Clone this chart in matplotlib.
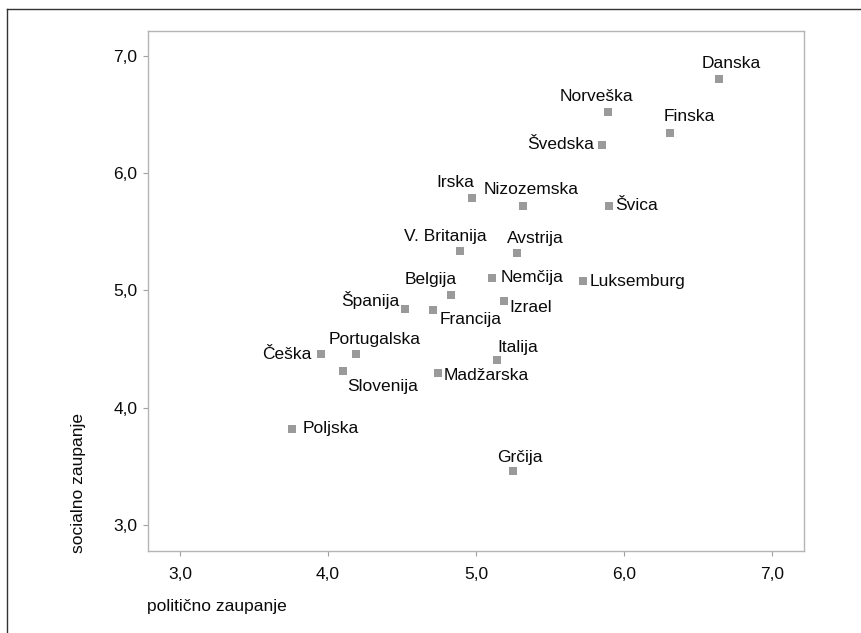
import numpy as np
import matplotlib
matplotlib.use("Agg")
import matplotlib.pyplot as plt
from matplotlib import font_manager
from matplotlib.lines import Line2D

# font: narrow sans if present, else normal Liberation Sans
try:
    font_manager.findfont(font_manager.FontProperties(family="Liberation Sans Narrow"), fallback_to_default=False)
    fam, fs = "Liberation Sans Narrow", 14
except Exception:
    fam, fs = "Liberation Sans", 12.5
plt.rcParams["font.family"] = [fam, "DejaVu Sans"]

########## data #################################################################
countries = ["Danska", "Norveška", "Finska", "Švedska", "Irska", "Nizozemska", "Švica",
             "V. Britanija", "Avstrija", "Nemčija", "Luksemburg", "Belgija", "Izrael",
             "Španija", "Francija", "Češka", "Portugalska", "Italija", "Slovenija",
             "Madžarska", "Poljska", "Grčija"]
political = [6.64, 5.89, 6.31, 5.85, 4.97, 5.32, 5.90,
             4.89, 5.28, 5.11, 5.72, 4.83, 5.19,
             4.52, 4.71, 3.95, 4.19, 5.14, 4.10,
             4.74, 3.76, 5.25]
social = [6.80, 6.52, 6.34, 6.24, 5.79, 5.72, 5.72,
          5.34, 5.32, 5.11, 5.08, 4.96, 4.91,
          4.84, 4.83, 4.46, 4.46, 4.41, 4.31,
          4.30, 3.82, 3.46]

xticks = [3.0, 4.0, 5.0, 6.0, 7.0]
yticks = [3.0, 4.0, 5.0, 6.0, 7.0]
xtick_labels = ["3,0", "4,0", "5,0", "6,0", "7,0"]
ytick_labels = ["3,0", "4,0", "5,0", "6,0", "7,0"]

# label placement: (ha, dx px, dy px)
label_pos = {
    "Danska": ("center", 13, 16), "Norveška": ("center", -11, 16), "Finska": ("center", 19, 17),
    "Švedska": ("right", -8, 1), "Irska": ("center", -16, 15), "Nizozemska": ("center", 8, 17),
    "Švica": ("left", 6, 1), "V. Britanija": ("center", -14, 14), "Avstrija": ("center", 18, 14),
    "Nemčija": ("left", 8, 0), "Luksemburg": ("left", 7, 0), "Belgija": ("center", -20, 16),
    "Izrael": ("left", 5, -6), "Španija": ("right", -6, 9), "Francija": ("left", 7, -9),
    "Češka": ("right", -9, -1), "Portugalska": ("center", 19, 14), "Italija": ("left", 1, 12),
    "Slovenija": ("left", 4, -15), "Madžarska": ("left", 6, -3), "Poljska": ("left", 10, 0),
    "Grčija": ("center", 7, 14),
}

########## plot #################################################################
fig = plt.figure(figsize=(8.62, 6.33), dpi=100)
ax = fig.add_axes([148/862, 1-551/633, (804-148)/862, (551-31)/633])

ax.scatter(political, social, marker="s", s=34, color="#9a9a9a", linewidths=0, zorder=3)

for name, xv, yv in zip(countries, political, social):
    ha, dx, dy = label_pos[name]
    ax.annotate(name, (xv, yv), xytext=(dx, dy), textcoords="offset pixels",
                ha=ha, va="center", fontsize=fs, color="#0a0a0a")

ax.set_xlim(2.784, 7.216)
ax.set_ylim(2.778, 7.213)
ax.set_xticks(xticks, xtick_labels)
ax.set_yticks(yticks, ytick_labels)

for sp in ax.spines.values():
    sp.set_color("#b4b4b4")
    sp.set_linewidth(1)
ax.tick_params(axis="both", direction="out", length=3.6, width=0.8, color="#a0a0a0",
               labelsize=fs, labelcolor="#0a0a0a")
ax.tick_params(axis="x", pad=8)
ax.tick_params(axis="y", pad=4)

fig.text(147/862, 1-607/633, "politično zaupanje", ha="left", va="center", fontsize=fs, color="#0a0a0a")
fig.text(79/862, 1-553/633, "socialno zaupanje", ha="center", va="bottom", rotation=90,
         fontsize=fs, color="#0a0a0a")

# outer frame (cut off at right and bottom)
fig.add_artist(Line2D([7/862, 1.01], [1-9/633, 1-9/633], color="#333333", lw=1))
fig.add_artist(Line2D([7/862, 7/862], [-0.01, 1-9/633], color="#333333", lw=1))

plt.savefig("out.png", dpi=100)
